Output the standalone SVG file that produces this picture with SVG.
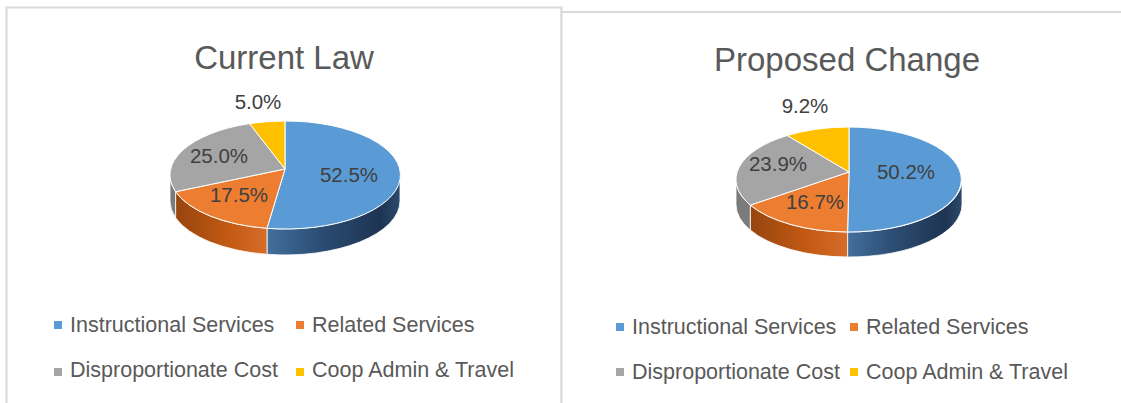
<svg xmlns="http://www.w3.org/2000/svg" width="1121" height="403" viewBox="0 0 1121 403">
<style>
.frame{fill:#fff;stroke:#d9d9d9;stroke-width:2}
.title{font-family:"Liberation Sans",Arial,sans-serif;font-size:33px;fill:#595959;text-anchor:middle}
.lbl{font-family:"Liberation Sans",Arial,sans-serif;font-size:20.5px;fill:#404040;text-anchor:middle}
.leg{font-family:"Liberation Sans",Arial,sans-serif;font-size:21.5px;fill:#595959}
.top{stroke:#fff;stroke-width:1;stroke-linejoin:round}
.side{stroke:#fff;stroke-width:0.8}
.blue{fill:#5b9bd5}.orange{fill:#ed7d31}.gray{fill:#a5a5a5}.yellow{fill:#ffc000}
.bside{fill:url(#gBlue)}.oside{fill:url(#gOrange)}.gside{fill:#7b7b7b}
</style>
<defs>
<linearGradient id="gBlue" x1="0" y1="0" x2="1" y2="0">
<stop offset="0" stop-color="#436f9c"/><stop offset="0.4" stop-color="#2c4d73"/><stop offset="0.85" stop-color="#1e3452"/><stop offset="1" stop-color="#2b4a6d"/>
</linearGradient>
<linearGradient id="gOrange" x1="0" y1="0" x2="1" y2="0">
<stop offset="0" stop-color="#97450f"/><stop offset="0.6" stop-color="#c45a14"/><stop offset="1" stop-color="#d66d28"/>
</linearGradient>
</defs>
<rect x="0" y="0" width="1121" height="403" fill="#fff"/>
<g id="frame-current"><rect class="frame" x="6.5" y="7.5" width="555" height="500"/></g>
<g id="frame-proposed"><rect class="frame" x="561.5" y="12" width="600" height="500"/></g>

<g id="chart-current">
<text class="title" x="284" y="69">Current Law</text>
<g id="pie-current">
<path class="side bside" d="M400 175 A115 54 0 0 1 267 228.3 L267 254.3 A115 54 0 0 0 400 201 Z"/>
<path class="side oside" d="M267 228.3 A115 54 0 0 1 175.6 191.7 L175.6 217.7 A115 54 0 0 0 267 254.3 Z"/>
<path class="side gside" d="M175.6 191.7 A115 54 0 0 1 170 175 L170 201 A115 54 0 0 0 175.6 217.7 Z"/>
<path class="top blue" d="M285 169 L285 121 A115 54 0 1 1 267 228.3 Z"/>
<path class="top orange" d="M285 169 L267 228.3 A115 54 0 0 1 175.6 191.7 Z"/>
<path class="top gray" d="M285 169 L175.6 191.7 A115 54 0 0 1 249.5 123.6 Z"/>
<path class="top yellow" d="M285 169 L249.5 123.6 A115 54 0 0 1 285 121 Z"/>
</g>
<text class="lbl" x="349" y="182">52.5%</text>
<text class="lbl" x="239" y="202">17.5%</text>
<text class="lbl" x="219" y="163">25.0%</text>
<text class="lbl" x="258" y="109">5.0%</text>
<g id="legend-current">
<rect x="54" y="321" width="8" height="8" fill="#5b9bd5"/>
<text class="leg" x="70" y="332">Instructional Services</text>
<rect x="296" y="321" width="8" height="8" fill="#ed7d31"/>
<text class="leg" x="312" y="332">Related Services</text>
<rect x="54" y="368" width="8" height="8" fill="#a5a5a5"/>
<text class="leg" x="70" y="377">Disproportionate Cost</text>
<rect x="296" y="368" width="8" height="8" fill="#ffc000"/>
<text class="leg" x="312" y="377">Coop Admin &amp; Travel</text>
</g>
</g>

<g id="chart-proposed">
<text class="title" x="847" y="71">Proposed Change</text>
<g id="pie-proposed">
<path class="side bside" d="M962 179.5 A113 52.5 0 0 1 847.6 232 L847.6 257 A113 52.5 0 0 0 962 204.5 Z"/>
<path class="side oside" d="M847.6 232 A113 52.5 0 0 1 750.3 205.1 L750.3 230.1 A113 52.5 0 0 0 847.6 257 Z"/>
<path class="side gside" d="M750.3 205.1 A113 52.5 0 0 1 736 179.5 L736 204.5 A113 52.5 0 0 0 750.3 230.1 Z"/>
<path class="top blue" d="M849 172 L849 127 A113 52.5 0 1 1 847.6 232 Z"/>
<path class="top orange" d="M849 172 L847.6 232 A113 52.5 0 0 1 750.3 205.1 Z"/>
<path class="top gray" d="M849 172 L750.3 205.1 A113 52.5 0 0 1 787.3 135.5 Z"/>
<path class="top yellow" d="M849 172 L787.3 135.5 A113 52.5 0 0 1 849 127 Z"/>
</g>
<text class="lbl" x="906" y="179">50.2%</text>
<text class="lbl" x="815" y="209">16.7%</text>
<text class="lbl" x="778" y="171">23.9%</text>
<text class="lbl" x="805" y="113">9.2%</text>
<g id="legend-proposed">
<rect x="616" y="323" width="8" height="8" fill="#5b9bd5"/>
<text class="leg" x="632" y="334">Instructional Services</text>
<rect x="850" y="323" width="8" height="8" fill="#ed7d31"/>
<text class="leg" x="866" y="334">Related Services</text>
<rect x="616" y="368" width="8" height="8" fill="#a5a5a5"/>
<text class="leg" x="632" y="379">Disproportionate Cost</text>
<rect x="850" y="368" width="8" height="8" fill="#ffc000"/>
<text class="leg" x="866" y="379">Coop Admin &amp; Travel</text>
</g>
</g>
</svg>
